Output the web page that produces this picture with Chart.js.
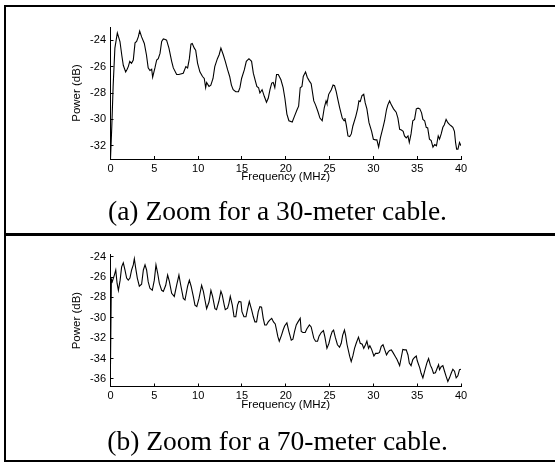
<!DOCTYPE html>
<html>
<head>
<meta charset="utf-8">
<script src="https://cdn.jsdelivr.net/npm/chart.js@4/dist/chart.umd.min.js"></script>
<style>
  html, body { margin: 0; padding: 0; background: #fff; width: 555px; height: 464px; overflow: hidden; }
  .frame { position: absolute; left: 4px; top: 5px; width: 600px; height: 457px; box-sizing: border-box; border: 2px solid #000; }
  .sep { position: absolute; left: 4px; top: 233px; width: 600px; height: 2.5px; background: #000; }
  .cap { position: absolute; left: 0; width: 555px; text-align: center; font-family: "Liberation Serif", serif; font-size: 27.5px; line-height: 27.5px; color: #000; white-space: nowrap; }
  .box { position: absolute; left: 0; width: 555px; height: 200px; }
</style>
</head>
<body>
<div class="frame"></div>
<div class="sep"></div>
<div class="box" style="top:0px"><canvas id="chartA"></canvas></div>
<div class="box" style="top:236px"><canvas id="chartB"></canvas></div>
<div class="cap" style="top:197px">(a) Zoom for a 30-meter cable.</div>
<div class="cap" style="top:427px">(b) Zoom for a 70-meter cable.</div>
<script>
// 30-meter cable
const freqA = [0, 0.15, 0.3, 0.5, 0.78, 1.08, 1.3, 1.46, 1.73, 1.9, 2.03, 2.2, 2.4, 2.6, 2.8, 2.98, 3.17, 3.33, 3.55, 3.86,
  4.1, 4.3, 4.5, 4.7, 4.81, 5.07, 5.27, 5.45, 5.65, 5.84, 6.03, 6.25, 6.4, 6.67, 6.98, 7.17, 7.55, 7.8, 8.3, 8.6,
  8.8, 9.0, 9.18, 9.33, 9.56, 9.72, 9.94, 10.2, 10.5, 10.7, 10.86, 10.97, 11.24, 11.45, 11.7, 11.9, 12.2, 12.4, 12.6, 12.87,
  13.1, 13.37, 13.6, 13.8, 14.0, 14.3, 14.6, 14.77, 14.96, 15.27, 15.5, 15.8, 16.1, 16.3, 16.5, 16.7, 16.9, 17.05, 17.3, 17.55,
  17.8, 18.0, 18.2, 18.4, 18.57, 18.75, 18.95, 19.15, 19.45, 19.7, 19.9, 20.13, 20.36, 20.74, 21.0, 21.3, 21.47, 21.65, 21.85, 22.0,
  22.26, 22.45, 22.7, 22.9, 23.2, 23.4, 23.67, 23.9, 24.16, 24.4, 24.6, 24.7, 24.9, 25.2, 25.4, 25.57, 25.76, 25.95, 26.15, 26.45,
  26.65, 26.75, 26.9, 27.1, 27.3, 27.48, 27.66, 28.0, 28.2, 28.35, 28.5, 28.7, 28.9, 29.07, 29.26, 29.5, 29.8, 30.0, 30.25, 30.4,
  30.6, 30.8, 31.1, 31.28, 31.5, 31.65, 31.85, 32.05, 32.3, 32.6, 32.8, 33.0, 33.2, 33.4, 33.55, 33.75, 33.95, 34.1, 34.3, 34.5,
  34.7, 34.9, 35.1, 35.3, 35.5, 35.65, 35.85, 36.03, 36.2, 36.4, 36.6, 36.8, 37.0, 37.2, 37.4, 37.55, 37.74, 37.93, 38.1, 38.3,
  38.5, 38.7, 38.9, 39.07, 39.25, 39.38, 39.5, 39.65, 39.83, 40.0];
const powerA = [-33.0, -30.5, -27.5, -24.6, -23.45, -24.1, -25.2, -25.9, -26.4, -26.2, -26.0, -25.6, -25.75, -25.5, -24.2, -24.1, -23.75, -23.3, -23.75, -24.25,
  -25.1, -26.1, -26.3, -26.2, -26.8, -26.1, -25.5, -25.4, -25.0, -24.1, -23.9, -23.95, -24.0, -24.6, -25.6, -26.1, -26.6, -26.6, -26.5, -26.0,
  -26.1, -25.4, -24.3, -24.25, -24.6, -24.75, -25.75, -26.4, -26.75, -26.9, -27.6, -27.2, -27.5, -27.4, -26.9, -26.0, -25.4, -25.1, -24.6, -25.1,
  -25.6, -26.25, -26.75, -27.4, -27.75, -27.9, -27.9, -27.6, -26.9, -26.25, -25.6, -25.4, -25.6, -26.5, -27.0, -27.5, -27.6, -28.0, -27.75, -28.25,
  -28.7, -28.4, -27.75, -27.25, -27.2, -27.6, -26.6, -26.6, -27.0, -27.6, -28.4, -29.6, -30.1, -30.2, -29.75, -29.25, -29.0, -27.6, -27.5, -26.75,
  -26.4, -26.8, -27.1, -27.3, -28.6, -28.9, -29.4, -29.9, -30.1, -29.1, -28.6, -28.8, -28.1, -27.75, -27.4, -27.45, -27.9, -28.5, -29.1, -29.9,
  -30.1, -29.9, -30.4, -31.25, -31.3, -31.1, -30.5, -29.75, -29.2, -28.6, -28.65, -28.2, -28.1, -28.75, -29.2, -30.25, -30.9, -31.5, -31.55, -31.55,
  -32.1, -31.4, -30.6, -30.1, -29.25, -28.9, -28.6, -28.9, -29.2, -29.45, -29.9, -30.75, -30.8, -30.9, -31.25, -31.4, -31.25, -31.75, -31.1, -30.1,
  -30.0, -29.2, -29.15, -29.2, -29.5, -30.0, -30.1, -30.6, -30.65, -31.5, -31.6, -32.1, -31.9, -32.0, -31.25, -31.5, -31.1, -30.6, -30.4, -30.0,
  -30.25, -30.4, -30.5, -30.6, -30.9, -31.75, -32.25, -32.25, -31.75, -32.0];

// 70-meter cable
const freqB = [0, 0.1, 0.2, 0.44, 0.6, 0.75, 0.9, 1.1, 1.27, 1.46, 1.65, 1.84, 2.03, 2.22, 2.41, 2.6, 2.72, 2.87, 3.06, 3.29,
  3.55, 3.75, 3.94, 4.12, 4.3, 4.5, 4.77, 5.0, 5.19, 5.38, 5.57, 5.84, 6.03, 6.3, 6.52, 6.71, 6.98, 7.28, 7.55, 7.81,
  8.04, 8.31, 8.5, 8.8, 9.0, 9.2, 9.45, 9.64, 9.85, 10.1, 10.4, 10.6, 10.78, 10.97, 11.24, 11.46, 11.65, 11.92, 12.1, 12.36,
  12.6, 12.75, 12.98, 13.1, 13.36, 13.51, 13.67, 13.9, 14.1, 14.3, 14.5, 14.66, 14.89, 15.0, 15.23, 15.46, 15.65, 15.84, 16.1, 16.3,
  16.48, 16.67, 16.86, 17.05, 17.24, 17.43, 17.6, 17.8, 18.0, 18.2, 18.4, 18.6, 18.8, 18.95, 19.1, 19.26, 19.52, 19.7, 19.87, 20.13,
  20.36, 20.63, 20.82, 21.0, 21.2, 21.4, 21.65, 21.77, 21.96, 22.22, 22.4, 22.7, 22.9, 23.2, 23.4, 23.63, 23.8, 24.05, 24.3, 24.46,
  24.7, 24.93, 25.11, 25.3, 25.46, 25.65, 25.9, 26.14, 26.33, 26.5, 26.7, 26.83, 27.0, 27.3, 27.47, 27.66, 27.85, 28.04, 28.3, 28.5,
  28.73, 28.9, 29.1, 29.26, 29.45, 29.6, 29.8, 30.06, 30.25, 30.5, 30.7, 30.9, 31.1, 31.3, 31.5, 31.66, 31.85, 32.05, 32.23, 32.5,
  32.7, 33.0, 33.17, 33.36, 33.55, 33.75, 33.95, 34.1, 34.3, 34.5, 34.7, 34.9, 35.0, 35.3, 35.45, 35.65, 35.85, 36.1, 36.3, 36.5,
  36.67, 36.86, 37.08, 37.28, 37.44, 37.55, 37.74, 37.93, 38.12, 38.3, 38.5, 38.69, 38.88, 39.07, 39.26, 39.45, 39.64, 39.83, 40.0];
const powerB = [-34.6, -26.2, -26.45, -25.8, -25.3, -26.6, -27.3, -26.3, -25.0, -24.6, -25.3, -26.1, -26.3, -26.1, -25.3, -24.8, -24.2, -25.1, -26.1, -26.9,
  -26.7, -25.3, -24.8, -25.3, -26.45, -27.1, -27.3, -26.3, -24.8, -25.6, -26.6, -27.3, -27.4, -26.8, -25.8, -26.4, -27.6, -27.9, -26.8, -25.8,
  -26.9, -28.1, -28.25, -26.9, -26.3, -26.9, -27.9, -28.75, -28.9, -28.1, -26.8, -27.4, -28.25, -29.1, -28.45, -27.3, -27.9, -29.1, -29.2, -28.4,
  -27.4, -27.75, -28.75, -29.2, -29.05, -28.6, -27.9, -28.75, -29.9, -29.9, -28.75, -28.4, -28.45, -29.4, -29.9, -29.9, -29.1, -28.4, -29.2, -29.9,
  -30.4, -30.4, -29.4, -28.9, -28.95, -30.05, -30.7, -30.7, -30.4, -30.2, -30.05, -30.4, -30.6, -31.2, -31.85, -32.3, -31.7, -31.2, -30.8, -30.5,
  -31.35, -32.2, -32.1, -31.35, -30.7, -30.4, -30.05, -31.35, -31.45, -31.45, -31.1, -30.7, -30.9, -32.0, -32.3, -32.3, -31.8, -31.45, -31.25, -31.85,
  -33.0, -32.5, -31.85, -31.35, -31.2, -31.9, -32.65, -32.9, -32.5, -31.7, -31.2, -31.7, -32.65, -33.8, -34.3, -33.75, -33.0, -32.5, -31.9, -32.5,
  -32.6, -33.0, -32.65, -32.3, -33.0, -32.75, -33.1, -33.75, -33.5, -33.5, -33.4, -32.8, -32.65, -33.15, -33.65, -33.4, -33.2, -33.15, -33.4, -33.8,
  -34.1, -34.7, -33.95, -33.1, -33.15, -33.15, -33.65, -34.45, -34.7, -34.1, -33.9, -33.75, -34.2, -34.95, -35.45, -35.9, -35.25, -34.45, -34.0, -34.65,
  -34.95, -35.45, -35.4, -34.95, -34.6, -35.1, -34.8, -34.7, -35.25, -35.75, -36.25, -35.9, -35.45, -35.05, -35.25, -35.9, -35.7, -35.1, -35.05];

const xTicks = [0, 5, 10, 15, 20, 25, 30, 35, 40];
const yTicksA = [-32, -30, -28, -26, -24];
const yTicksB = [-36, -34, -32, -30, -28, -26, -24];

function makeChart(id, freq, power, yMin, yMax, yTicks, padTop, padBottom) {
    const ctx = document.getElementById(id).getContext("2d");
    const tickFont = { family: "Liberation Sans", size: 11 };
    const titleFont = { family: "Liberation Sans", size: 11.5 };
    return new Chart(ctx, {
        type: 'line',
        data: {
            datasets: [{
                data: freq.map((f, i) => ({ x: f, y: power[i] })),
                borderColor: '#000',
                borderWidth: 1.1,
                pointRadius: 0,
                tension: 0,
                fill: false
            }]
        },
        options: {
            responsive: false,
            animation: false,
            devicePixelRatio: 1,
            layout: { padding: { left: 70, right: 94, top: padTop, bottom: padBottom } },
            plugins: { legend: { display: false }, tooltip: { enabled: false } },
            scales: {
                x: {
                    type: 'linear',
                    min: 0,
                    max: 40,
                    afterBuildTicks: s => { s.ticks = xTicks.map(v => ({ value: v })); },
                    afterFit: s => { s.height = 25; },
                    grid: { drawOnChartArea: false, color: '#000', tickLength: -3 },
                    border: { color: '#000', width: 1 },
                    ticks: { color: '#000', font: tickFont, padding: 6, maxRotation: 0 },
                    title: { display: true, text: 'Frequency (MHz)', color: '#000', font: titleFont, padding: 0 }
                },
                y: {
                    min: yMin,
                    max: yMax,
                    afterBuildTicks: s => { s.ticks = yTicks.map(v => ({ value: v })); },
                    afterFit: s => { s.width = 40.5; },
                    grid: { drawOnChartArea: false, color: '#000', tickLength: -3 },
                    border: { color: '#000', width: 1 },
                    ticks: { color: '#000', font: tickFont, padding: 7.5 },
                    title: { display: true, text: 'Power (dB)', color: '#000', font: titleFont, padding: 0 }
                }
            }
        }
    });
}

document.getElementById("chartA").width = 555;
document.getElementById("chartA").height = 200;
document.getElementById("chartB").width = 555;
document.getElementById("chartB").height = 200;

makeChart("chartA", freqA, powerA, -33, -23, yTicksA, 27, 16);
makeChart("chartB", freqB, powerB, -36.75, -23.8, yTicksB, 18.7, 24.5);
</script>
</body>
</html>
